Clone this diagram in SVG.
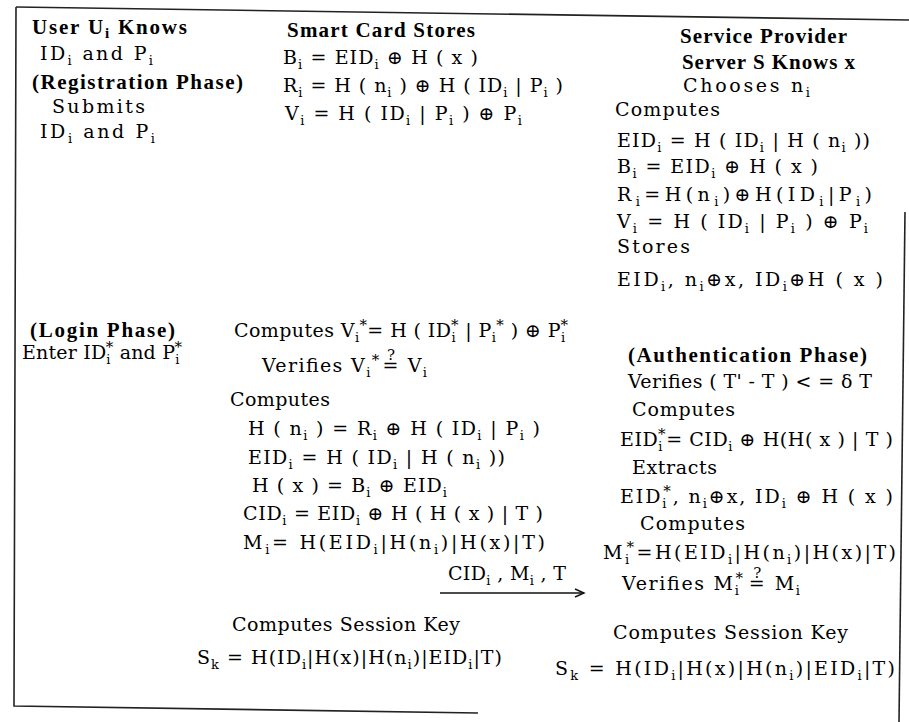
<svg xmlns="http://www.w3.org/2000/svg" width="909" height="722" viewBox="0 0 909 722">
<defs>
<style>
.t{font-family:"DejaVu Serif","Liberation Serif",serif;font-size:19px;fill:#000}
.h{font-family:"Liberation Serif","DejaVu Serif",serif;font-weight:bold;font-size:21px;fill:#000}
.s{font-size:13px}
.hs{font-size:15px}
.st{font-size:15px}
.q{font-size:15px}
.frame{fill:none;stroke:#222;stroke-width:1.6}
.conn{fill:none;stroke:#111;stroke-width:1.4}
</style>
<marker id="ah" markerWidth="12" markerHeight="10" refX="10" refY="5" orient="auto" markerUnits="userSpaceOnUse">
<path d="M1,1 L10,5 L1,9" fill="none" stroke="#111" stroke-width="1.4"/>
</marker>
</defs>
<rect width="909" height="722" fill="#fff"/>
<g id="frame">
<path class="frame" d="M16,7 L909,20"/>
<path class="frame" d="M16,7 L14,706 L478,713"/>
<path class="frame" d="M905,212 L899,722"/>
</g>

<g id="user-registration">
<text class="h" x="32" y="34" textLength="155">User U<tspan class="hs" dy="4">i</tspan><tspan dy="-4"> Knows</tspan></text>
<text class="t" x="40" y="60" textLength="113">ID<tspan class="s" dy="5">i</tspan><tspan dy="-5"> and P</tspan><tspan class="s" dy="5">i</tspan></text>
<text class="h" x="32" y="89" textLength="211">(Registration Phase)</text>
<text class="t" x="52" y="113" textLength="93">Submits</text>
<text class="t" x="40" y="138" textLength="115">ID<tspan class="s" dy="5">i</tspan><tspan dy="-5"> and P</tspan><tspan class="s" dy="5">i</tspan></text>
</g>

<g id="smart-card">
<text class="h" x="287" y="37" textLength="188">Smart Card Stores</text>
<text class="t" x="283" y="64" textLength="195">B<tspan class="s" dy="5">i</tspan><tspan dy="-5"> = EID</tspan><tspan class="s" dy="5">i</tspan><tspan dy="-5"> ⊕ H ( x )</tspan></text>
<text class="t" x="283" y="92" textLength="280">R<tspan class="s" dy="5">i</tspan><tspan dy="-5"> = H ( n</tspan><tspan class="s" dy="5">i</tspan><tspan dy="-5"> ) ⊕ H ( ID</tspan><tspan class="s" dy="5">i</tspan><tspan dy="-5"> | P</tspan><tspan class="s" dy="5">i</tspan><tspan dy="-5"> )</tspan></text>
<text class="t" x="285" y="120" textLength="237">V<tspan class="s" dy="5">i</tspan><tspan dy="-5"> = H ( ID</tspan><tspan class="s" dy="5">i</tspan><tspan dy="-5"> | P</tspan><tspan class="s" dy="5">i</tspan><tspan dy="-5"> ) ⊕ P</tspan><tspan class="s" dy="5">i</tspan></text>
</g>

<g id="server-registration">
<text class="h" x="680" y="43" textLength="167">Service Provider</text>
<text class="h" x="682" y="69" textLength="173">Server S Knows x</text>
<text class="t" x="683" y="92" textLength="127">Chooses n<tspan class="s" dy="5">i</tspan></text>
<text class="t" x="615" y="116" textLength="105">Computes</text>
<text class="t" x="617" y="147" textLength="253">EID<tspan class="s" dy="5">i</tspan><tspan dy="-5"> = H ( ID</tspan><tspan class="s" dy="5">i</tspan><tspan dy="-5"> | H ( n</tspan><tspan class="s" dy="5">i</tspan><tspan dy="-5"> ))</tspan></text>
<text class="t" x="617" y="173" textLength="201">B<tspan class="s" dy="5">i</tspan><tspan dy="-5"> = EID</tspan><tspan class="s" dy="5">i</tspan><tspan dy="-5"> ⊕ H ( x )</tspan></text>
<text class="t" x="617" y="201" textLength="255">R<tspan class="s" dy="5">i</tspan><tspan dy="-5">=H(n</tspan><tspan class="s" dy="5">i</tspan><tspan dy="-5">)⊕H(ID</tspan><tspan class="s" dy="5">i</tspan><tspan dy="-5">|P</tspan><tspan class="s" dy="5">i</tspan><tspan dy="-5">)</tspan></text>
<text class="t" x="617" y="228" textLength="251">V<tspan class="s" dy="5">i</tspan><tspan dy="-5"> = H ( ID</tspan><tspan class="s" dy="5">i</tspan><tspan dy="-5"> | P</tspan><tspan class="s" dy="5">i</tspan><tspan dy="-5"> ) ⊕ P</tspan><tspan class="s" dy="5">i</tspan></text>
<text class="t" x="617" y="253" textLength="73">Stores</text>
<text class="t" x="617" y="286" textLength="266">EID<tspan class="s" dy="5">i</tspan><tspan dy="-5">, n</tspan><tspan class="s" dy="5">i</tspan><tspan dy="-5">⊕x, ID</tspan><tspan class="s" dy="5">i</tspan><tspan dy="-5">⊕H ( x )</tspan></text>
</g>

<g id="user-login">
<text class="h" x="30" y="337" textLength="145">(Login Phase)</text>
<text class="t" x="22" y="359" textLength="160">Enter ID<tspan class="s" dy="5">i</tspan><tspan class="st" dx="-5" dy="-12">*</tspan><tspan dy="7"> and P</tspan><tspan class="s" dy="5">i</tspan><tspan class="st" dx="-5" dy="-12">*</tspan></text>
</g>

<g id="card-login">
<text class="t" x="234" y="337" textLength="334">Computes V<tspan class="s" dy="5">i</tspan><tspan class="st" dy="-12">*</tspan><tspan dy="7">= H ( ID</tspan><tspan class="s" dy="5">i</tspan><tspan class="st" dx="-5" dy="-12">*</tspan><tspan dy="7"> | P</tspan><tspan class="s" dy="5">i</tspan><tspan class="st" dy="-12">*</tspan><tspan dy="7"> ) ⊕ P</tspan><tspan class="s" dy="5">i</tspan><tspan class="st" dx="-5" dy="-12">*</tspan></text>
<text class="t" x="262" y="372" textLength="165">Verifies V<tspan class="s" dy="5">i</tspan><tspan class="st" dy="-12">*</tspan><tspan dy="7" dx="2">=</tspan><tspan class="q" dx="-13" dy="-12">?</tspan><tspan dy="12" dx="4"> V</tspan><tspan class="s" dy="5">i</tspan></text>
<text class="t" x="230" y="406" textLength="100">Computes</text>
<text class="t" x="248" y="435" textLength="292">H ( n<tspan class="s" dy="5">i</tspan><tspan dy="-5"> ) = R</tspan><tspan class="s" dy="5">i</tspan><tspan dy="-5"> ⊕ H ( ID</tspan><tspan class="s" dy="5">i</tspan><tspan dy="-5"> | P</tspan><tspan class="s" dy="5">i</tspan><tspan dy="-5"> )</tspan></text>
<text class="t" x="248" y="464" textLength="257">EID<tspan class="s" dy="5">i</tspan><tspan dy="-5"> = H ( ID</tspan><tspan class="s" dy="5">i</tspan><tspan dy="-5"> | H ( n</tspan><tspan class="s" dy="5">i</tspan><tspan dy="-5"> ))</tspan></text>
<text class="t" x="252" y="492" textLength="195">H ( x ) = B<tspan class="s" dy="5">i</tspan><tspan dy="-5"> ⊕ EID</tspan><tspan class="s" dy="5">i</tspan></text>
<text class="t" x="243" y="520" textLength="300">CID<tspan class="s" dy="5">i</tspan><tspan dy="-5"> = EID</tspan><tspan class="s" dy="5">i</tspan><tspan dy="-5"> ⊕ H ( H ( x ) | T )</tspan></text>
<text class="t" x="243" y="549" textLength="302">M<tspan class="s" dy="5">i</tspan><tspan dy="-5">= H(EID</tspan><tspan class="s" dy="5">i</tspan><tspan dy="-5">|H(n</tspan><tspan class="s" dy="5">i</tspan><tspan dy="-5">)|H(x)|T)</tspan></text>
<text class="t" x="232" y="631" textLength="228">Computes Session Key</text>
<text class="t" x="197" y="664" textLength="305">S<tspan class="s" dy="5">k</tspan><tspan dy="-5"> = H(ID</tspan><tspan class="s" dy="5">i</tspan><tspan dy="-5">|H(x)|H(n</tspan><tspan class="s" dy="5">i</tspan><tspan dy="-5">)|EID</tspan><tspan class="s" dy="5">i</tspan><tspan dy="-5">|T)</tspan></text>
</g>

<g id="server-authentication">
<text class="h" x="628" y="362" textLength="239">(Authentication Phase)</text>
<text class="t" x="628" y="388" textLength="244">Verifies ( T' - T ) &lt; = δ T</text>
<text class="t" x="632" y="416" textLength="103">Computes</text>
<text class="t" x="620" y="446" textLength="273">EID<tspan class="s" dy="5">i</tspan><tspan class="st" dx="-5" dy="-12">*</tspan><tspan dy="7">= CID</tspan><tspan class="s" dy="5">i</tspan><tspan dy="-5"> ⊕ H(H( x ) | T )</tspan></text>
<text class="t" x="632" y="474" textLength="85">Extracts</text>
<text class="t" x="620" y="503" textLength="273">EID<tspan class="s" dy="5">i</tspan><tspan class="st" dx="-5" dy="-12">*</tspan><tspan dy="7">, n</tspan><tspan class="s" dy="5">i</tspan><tspan dy="-5">⊕x, ID</tspan><tspan class="s" dy="5">i</tspan><tspan dy="-5"> ⊕ H ( x )</tspan></text>
<text class="t" x="640" y="530" textLength="105">Computes</text>
<text class="t" x="603" y="559" textLength="293">M<tspan class="s" dy="5">i</tspan><tspan class="st" dx="-5" dy="-12">*</tspan><tspan dy="7">=H(EID</tspan><tspan class="s" dy="5">i</tspan><tspan dy="-5">|H(n</tspan><tspan class="s" dy="5">i</tspan><tspan dy="-5">)|H(x)|T)</tspan></text>
<text class="t" x="622" y="590" textLength="178">Verifies M<tspan class="s" dy="5">i</tspan><tspan class="st" dx="-5" dy="-12">*</tspan><tspan dy="7" dx="4">=</tspan><tspan class="q" dx="-13" dy="-12">?</tspan><tspan dy="12" dx="4"> M</tspan><tspan class="s" dy="5">i</tspan></text>
<text class="t" x="613" y="639" textLength="235">Computes Session Key</text>
<text class="t" x="555" y="675" textLength="340">S<tspan class="s" dy="5">k</tspan><tspan dy="-5"> = H(ID</tspan><tspan class="s" dy="5">i</tspan><tspan dy="-5">|H(x)|H(n</tspan><tspan class="s" dy="5">i</tspan><tspan dy="-5">)|EID</tspan><tspan class="s" dy="5">i</tspan><tspan dy="-5">|T)</tspan></text>
</g>

<g id="connectors">
<line class="conn" x1="440" y1="593" x2="584" y2="593" marker-end="url(#ah)"/>
<text class="t" x="448" y="580" textLength="118">CID<tspan class="s" dy="5">i</tspan><tspan dy="-5"> , M</tspan><tspan class="s" dy="5">i</tspan><tspan dy="-5"> , T</tspan></text>
</g>
</svg>
